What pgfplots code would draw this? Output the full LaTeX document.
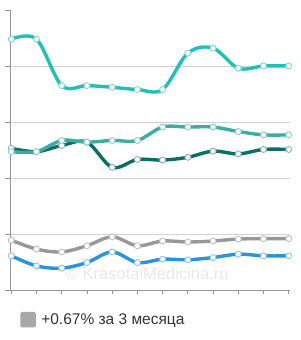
\documentclass[border=0pt]{standalone}
\usepackage{pgfplots}
\pgfplotsset{compat=1.18}
\usepackage{fontspec}
\setmainfont{Liberation Sans}
\definecolor{cA}{RGB}{32,192,184}
\definecolor{cB}{RGB}{62,172,160}
\definecolor{cC}{RGB}{12,110,100}
\definecolor{cD}{RGB}{152,152,152}
\definecolor{cE}{RGB}{42,148,218}
\definecolor{axc}{RGB}{150,150,150}
\definecolor{gridc}{RGB}{212,212,212}
\begin{document}
\begin{tikzpicture}[x=1pt,y=1pt]
\useasboundingbox (0,0) rectangle (300,340);
\begin{axis}[
  at={(10pt,50pt)}, anchor=south west,
  scale only axis, width=280pt, height=280pt,
  xmin=-0.05, xmax=11.05, ymin=0, ymax=5,
  axis lines*=left,
  axis line style={axc, line width=0.8pt},
  xtick={0,...,11}, xticklabels={},
  ytick={1,2,3,4}, yticklabels={},
  extra y ticks={0,5}, extra y tick labels={},
  extra y tick style={grid=none},
  ymajorgrids, grid style={gridc, line width=0.7pt},
  tick align=outside, major tick length=4.5pt,
  tick style={axc, line width=0.8pt},
  clip=false,
  every axis plot/.append style={smooth, tension=0.55, line width=3.4pt,
    mark=*, mark size=3pt},
  legend style={draw=none, fill=none, at={(0.029,-0.07)}, anchor=north west,
    font=\fontsize{15.5}{18}\selectfont, text=black!80, inner sep=2pt},
  legend cell align=left,
]
\node[text=black!9, font=\fontsize{16.5}{19}\selectfont, anchor=center] at (rel axis cs:0.49,0.06) {© KrasotaiMedicina.ru};
\addplot[cD, mark options={draw=cD!60, fill=white, line width=0.9pt}, forget plot] coordinates {
(0,0.89)(1,0.73)(2,0.68)(3,0.79)(4,0.95)(5,0.79)(6,0.875)(7,0.857)(8,0.875)(9,0.91)(10,0.916)(11,0.916)};
\addplot[cE, mark options={draw=cE!55, fill=white, line width=0.9pt}, forget plot] coordinates {
(0,0.61)(1,0.43)(2,0.39)(3,0.49)(4,0.68)(5,0.49)(6,0.55)(7,0.54)(8,0.58)(9,0.64)(10,0.61)(11,0.61)};
\addplot[cC, mark options={draw=cC!50, fill=white, line width=0.9pt}, forget plot] coordinates {
(0,2.53)(1,2.47)(2,2.58)(3,2.64)(4,2.19)(5,2.33)(6,2.32)(7,2.37)(8,2.48)(9,2.43)(10,2.51)(11,2.51)};
\addplot[cB, mark options={draw=cB!60, fill=white, line width=0.9pt}, forget plot] coordinates {
(0,2.47)(1,2.47)(2,2.67)(3,2.64)(4,2.67)(5,2.67)(6,2.91)(7,2.91)(8,2.91)(9,2.83)(10,2.77)(11,2.77)};
\addplot[cA, mark options={draw=cA!60, fill=white, line width=0.9pt}, forget plot] coordinates {
(0,4.48)(1,4.48)(2,3.65)(3,3.65)(4,3.62)(5,3.58)(6,3.58)(7,4.23)(8,4.32)(9,3.96)(10,4.0)(11,4.0)};
\addlegendimage{legend image code/.code={\path[draw=none,fill=none] (0pt,-1pt) rectangle (19pt,1pt);\fill[cD!85, draw=none, rounded corners=1.5pt] (0pt,-7.5pt) rectangle (15.5pt,8pt);}}
\addlegendentry{+0.67\% за 3 месяца}
\end{axis}
\end{tikzpicture}
\end{document}
